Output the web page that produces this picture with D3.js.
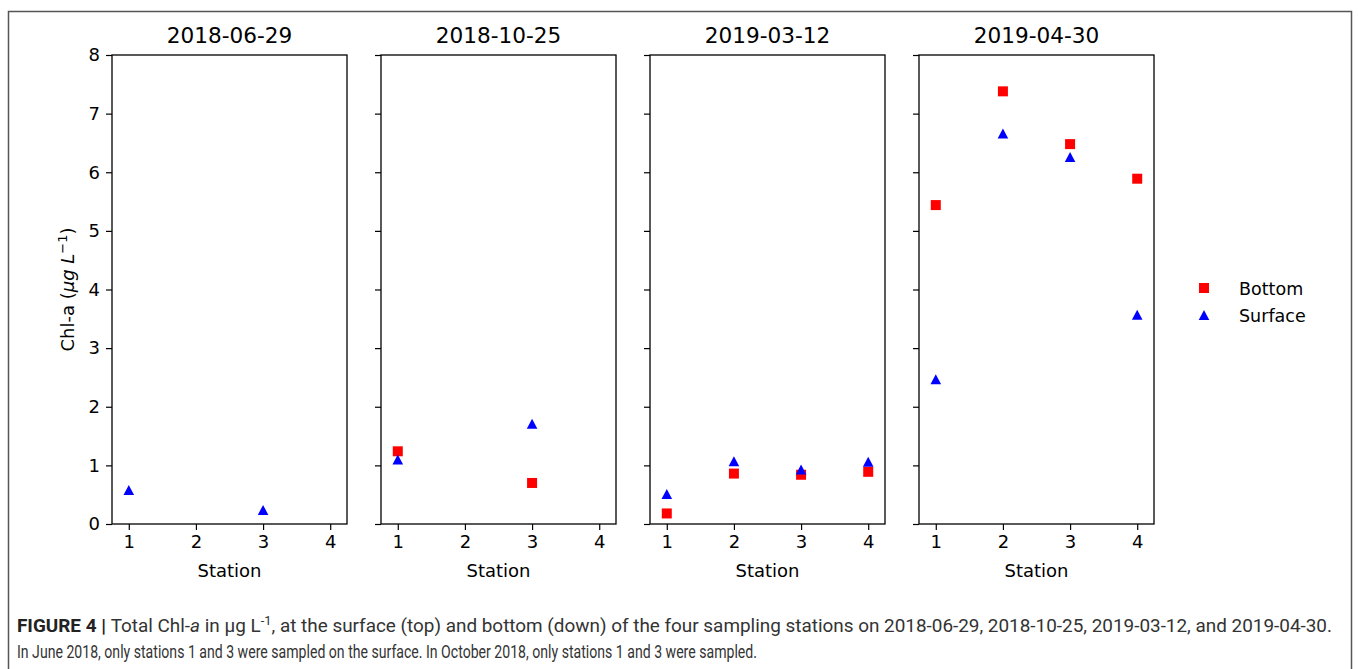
<!DOCTYPE html>
<html>
<head>
<meta charset="utf-8">
<script src="https://cdn.jsdelivr.net/npm/d3@7"></script>
<style>
  html, body { margin: 0; padding: 0; background: #fff; }
  svg { display: block; }
</style>
</head>
<body>
<svg id="chart" width="1358" height="669"></svg>
<script>
// sampling dates (one panel each) and stations
const dates = ['2018-06-29', '2018-10-25', '2019-03-12', '2019-04-30']
const stations = [1, 2, 3, 4]
const yTicks = [0, 1, 2, 3, 4, 5, 6, 7, 8]

// Chl-a values per date, per station (null = not sampled)
const bottom = [
  [null, null, null, null],
  [1.24, null, 0.70, null],
  [0.18, 0.86, 0.84, 0.89],
  [5.44, 7.38, 6.48, 5.89]
]
const surface = [
  [0.58, null, 0.24, null],
  [1.10, null, 1.71, null],
  [0.51, 1.07, 0.93, 1.06],
  [2.47, 6.66, 6.26, 3.57]
]

const seriesNames = ['Bottom', 'Surface']
const seriesColors = ['#ff0000', '#0000ff']

const svg = d3.select('#chart')
const plotFont = 'DejaVu Sans, sans-serif'

// Outer figure frame
svg.append('rect')
  .attr('x', 8.5).attr('y', 11.5)
  .attr('width', 1343).attr('height', 680)
  .attr('fill', 'none')
  .attr('stroke', '#555')
  .attr('stroke-width', 1.5)

const panelW = 235
const plotTop = 55
const plotBot = 524
const panelLeft = d3.scaleLinear().domain([0, 1]).range([112, 381])

const y = d3.scaleLinear().domain([0, 8]).range([plotBot, plotTop])

// Marker shapes: square and matplotlib-style triangle
const squarePath = d3.symbol(d3.symbolSquare, 100)()
const trianglePath = 'M0,-5L5.3,5L-5.3,5Z'

dates.forEach((date, i) => {
  const left = Math.round(panelLeft(i))
  const x = d3.scaleLinear().domain([0.75, 4.25]).range([left, left + panelW])
  const g = svg.append('g')

  // x axis
  const xAxis = g.append('g')
    .attr('transform', `translate(0,${plotBot})`)
    .call(d3.axisBottom(x).tickValues(stations).tickSize(6).tickPadding(5).tickFormat(d3.format('d')))
  xAxis.select('.domain').remove()
  xAxis.selectAll('text').attr('font-family', plotFont).attr('font-size', 18).attr('fill', '#000')
  xAxis.selectAll('line').attr('stroke', '#000').attr('stroke-width', 1.2)

  // y axis, labels only on the first panel (shared y)
  const yAxis = g.append('g')
    .attr('transform', `translate(${left},0)`)
    .call(d3.axisLeft(y).tickValues(yTicks).tickSize(6).tickPadding(6)
      .tickFormat(i === 0 ? d3.format('d') : () => ''))
  yAxis.select('.domain').remove()
  yAxis.selectAll('text').attr('font-family', plotFont).attr('font-size', 18).attr('fill', '#000')
  yAxis.selectAll('line').attr('stroke', '#000').attr('stroke-width', 1.2)

  // spines
  g.append('rect')
    .attr('x', left).attr('y', plotTop)
    .attr('width', panelW).attr('height', plotBot - plotTop)
    .attr('fill', 'none')
    .attr('stroke', '#000')
    .attr('stroke-width', 1.3)

  // title
  g.append('text')
    .attr('x', left + panelW / 2).attr('y', 43)
    .attr('text-anchor', 'middle')
    .attr('font-family', plotFont).attr('font-size', 21.6)
    .text(date)

  // x label
  g.append('text')
    .attr('x', left + panelW / 2).attr('y', 577)
    .attr('text-anchor', 'middle')
    .attr('font-family', plotFont).attr('font-size', 18)
    .text('Station')

  // bottom values first, surface drawn on top
  const pts = (vals) => stations.map((s, k) => ({ s, v: vals[k] })).filter(d => d.v !== null)
  g.selectAll('path.bottom').data(pts(bottom[i])).enter().append('path')
    .attr('class', 'bottom')
    .attr('d', squarePath)
    .attr('transform', d => `translate(${x(d.s)},${y(d.v)})`)
    .attr('fill', seriesColors[0])
  g.selectAll('path.surface').data(pts(surface[i])).enter().append('path')
    .attr('class', 'surface')
    .attr('d', trianglePath)
    .attr('transform', d => `translate(${x(d.s)},${y(d.v)})`)
    .attr('fill', seriesColors[1])
})

// y label
const ylab = svg.append('text')
  .attr('transform', `translate(74,${(plotTop + plotBot) / 2}) rotate(-90)`)
  .attr('text-anchor', 'middle')
  .attr('font-family', plotFont).attr('font-size', 18)
ylab.append('tspan').text('Chl-a (')
ylab.append('tspan').attr('font-style', 'italic').text('μg L')
ylab.append('tspan').attr('font-size', 13).attr('dy', -7).text('−1')
ylab.append('tspan').attr('dy', 7).text(')')

// legend
const legend = svg.append('g')
seriesNames.forEach((name, k) => {
  const ly = 288 + k * 27
  legend.append('path')
    .attr('d', k === 0 ? squarePath : trianglePath)
    .attr('transform', `translate(1204,${ly})`)
    .attr('fill', seriesColors[k])
  legend.append('text')
    .attr('x', 1239).attr('y', ly + 6.5)
    .attr('font-family', plotFont).attr('font-size', 17.5)
    .text(name)
})

// caption (condensed look via textLength)
const capFont = 'Liberation Sans Narrow, Roboto, Liberation Sans, sans-serif'
const cap1 = svg.append('text')
  .attr('x', 17).attr('y', 632)
  .attr('font-family', capFont).attr('font-size', 19)
  .attr('fill', '#333')
  .attr('textLength', 1315).attr('lengthAdjust', 'spacingAndGlyphs')
cap1.append('tspan').attr('font-weight', 'bold').attr('fill', '#222').text('FIGURE 4 | ')
cap1.append('tspan').text('Total Chl-')
cap1.append('tspan').attr('font-style', 'italic').text('a')
cap1.append('tspan').text(' in μg L')
cap1.append('tspan').attr('font-size', 13).attr('dy', -7).text('-1')
cap1.append('tspan').attr('dy', 7).text(', at the surface (top) and bottom (down) of the four sampling stations on 2018-06-29, 2018-10-25, 2019-03-12, and 2019-04-30.')

svg.append('text')
  .attr('x', 17).attr('y', 658)
  .attr('font-family', capFont).attr('font-size', 19)
  .attr('fill', '#333')
  .attr('textLength', 740).attr('lengthAdjust', 'spacingAndGlyphs')
  .text('In June 2018, only stations 1 and 3 were sampled on the surface. In October 2018, only stations 1 and 3 were sampled.')
</script>
</body>
</html>
